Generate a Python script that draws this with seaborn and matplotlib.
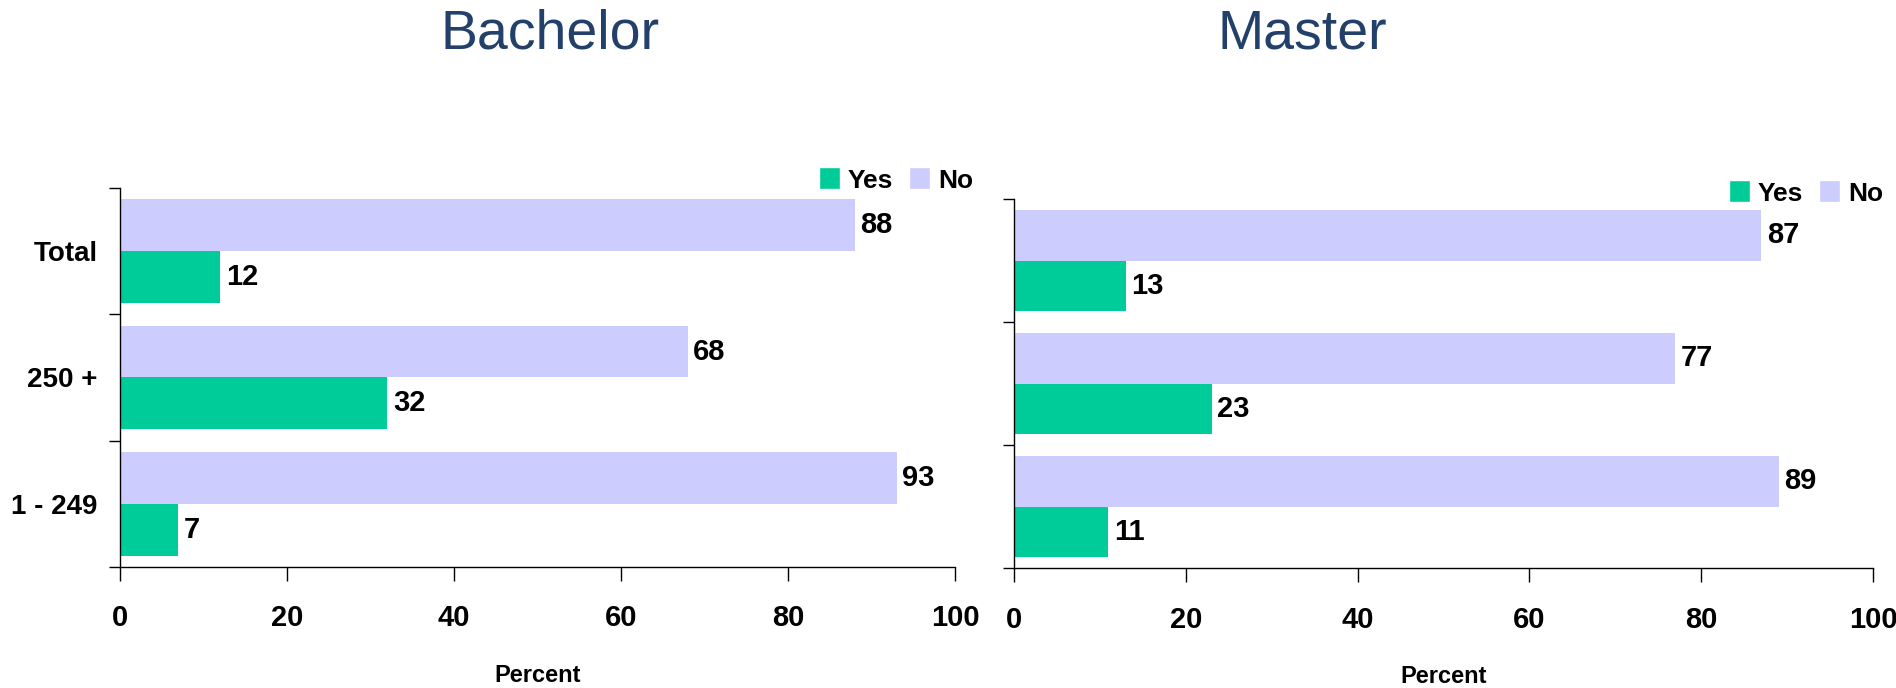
import pandas as pd
import matplotlib
matplotlib.use('Agg')
import matplotlib.pyplot as plt
import seaborn as sns
from matplotlib.patches import Patch

# data
groups = ['Total', '250 +', '1 - 249']
answers = ['No', 'Yes']
bachelor_yes = [12, 32, 7]
bachelor_no = [88, 68, 93]
master_yes = [13, 23, 11]
master_no = [87, 77, 89]
ticks_x = [0, 20, 40, 60, 80, 100]

colors = {'Yes': '#00CC99', 'No': '#CCCCFF'}

sns.set_theme(style='white')
font = ['Liberation Sans', 'DejaVu Sans']
plt.rcParams['font.family'] = font
plt.rcParams['text.color'] = 'black'
plt.rcParams['axes.labelcolor'] = 'black'
plt.rcParams['xtick.color'] = 'black'
plt.rcParams['ytick.color'] = 'black'


def make_df(yes, no):
    rows = []
    for g, y, n in zip(groups, yes, no):
        rows.append({'group': g, 'answer': 'No', 'pct': n})
        rows.append({'group': g, 'answer': 'Yes', 'pct': y})
    return pd.DataFrame(rows)


fig = plt.figure(figsize=(18.96, 6.88), dpi=100)
ax1 = fig.add_axes([0.0633, 0.1759, 0.4404, 0.5509])
ax2 = fig.add_axes([0.5348, 0.1744, 0.4531, 0.5363])

panels = [(ax1, make_df(bachelor_yes, bachelor_no), True),
          (ax2, make_df(master_yes, master_no), False)]

for ax, df, show_labels in panels:
    sns.barplot(data=df, y='group', x='pct', hue='answer', order=groups,
                hue_order=answers, palette=colors, orient='h', width=0.82,
                ax=ax, legend=False, saturation=1, edgecolor='none')
    for c in ax.containers:
        ax.bar_label(c, padding=4, fontsize=21, fontweight='bold', color='black')
    ax.set_xlim(0, 100)
    ax.set_ylim(2.5, -0.5)
    ax.set_xticks(ticks_x)
    ax.set_xticklabels([str(t) for t in ticks_x], fontsize=21, fontweight='bold')
    ax.tick_params(axis='x', which='major', direction='out', length=10,
                   width=1, color='black', pad=17, bottom=True)
    # ticks at group boundaries, labels at group centres
    ax.set_yticks([-0.5, 0.5, 1.5, 2.5])
    ax.set_yticklabels([])
    ax.tick_params(axis='y', which='major', direction='out', length=8,
                   width=1, color='black', left=True)
    ax.set_yticks([0, 1, 2], minor=True)
    if show_labels:
        ax.set_yticklabels(groups, minor=True, fontsize=20, fontweight='bold')
    else:
        ax.set_yticklabels([], minor=True)
    ax.tick_params(axis='y', which='minor', length=0, pad=16)
    ax.set_ylabel('')
    ax.set_xlabel('Percent', fontsize=17, fontweight='bold', labelpad=23)
    for s in ['top', 'right']:
        ax.spines[s].set_visible(False)
    for s in ['left', 'bottom']:
        ax.spines[s].set_color('black')
        ax.spines[s].set_linewidth(1)
        ax.spines[s].set_zorder(5)

handles = [Patch(facecolor=colors['Yes'], label='Yes'),
           Patch(facecolor=colors['No'], label='No')]
leg_kw = dict(ncol=2, frameon=False, handlelength=0.8, handleheight=0.9,
              handletextpad=0.3, columnspacing=0.6, borderpad=0,
              borderaxespad=0,
              prop={'family': font, 'size': 19, 'weight': 'bold'})
fig.legend(handles=handles, loc='center right',
           bbox_to_anchor=(973 / 1896, 1 - 180 / 688), **leg_kw)
fig.legend(handles=handles, loc='center right',
           bbox_to_anchor=(1883 / 1896, 1 - 193 / 688), **leg_kw)

fig.text(0.290, 0.950, 'Bachelor', ha='center', va='center', fontsize=40,
         color='#23406A')
fig.text(0.687, 0.950, 'Master', ha='center', va='center', fontsize=40,
         color='#23406A')

fig.savefig('out.png', dpi=100, facecolor='white')
